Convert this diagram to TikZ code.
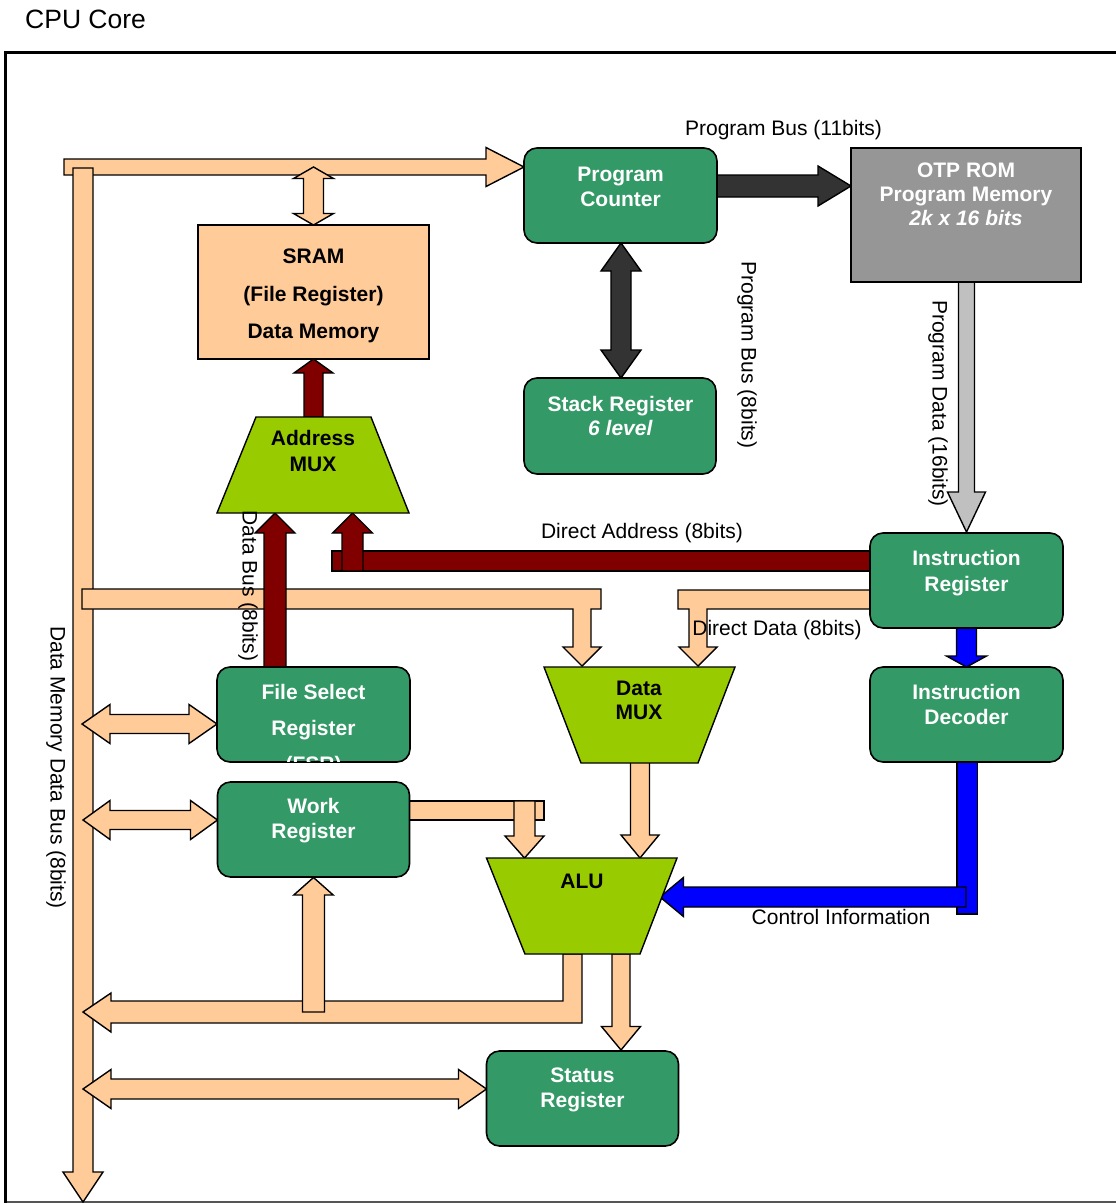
\documentclass[tikz,border=0pt]{standalone}
\usepackage{fontspec}
\setmainfont{Liberation Sans}
\definecolor{peach}{HTML}{FFCC99}
\definecolor{sgreen}{HTML}{339966}
\definecolor{lime}{HTML}{99CC00}
\definecolor{dred}{HTML}{800000}
\definecolor{dgray}{HTML}{333333}
\definecolor{romgray}{HTML}{969696}
\definecolor{lgray}{HTML}{C0C0C0}
\definecolor{pblue}{HTML}{0000FF}
\definecolor{framegray}{HTML}{555555}
\tikzset{
  blk/.style={draw=black, line width=1.4pt, line join=miter},
  gbox/.style={draw=black, line width=1.6pt, fill=sgreen, rounded corners=13pt, inner sep=0pt},
  plainbox/.style={draw=black, line width=1.6pt, inner sep=0pt},
  wlbl/.style={text=white, align=center, inner sep=0pt},
  klbl/.style={text=black, align=center, inner sep=0pt},
  buslbl/.style={text=black, inner sep=0pt, font=\fontsize{21}{25}\selectfont},
}
% horizontal block arrow: fill, x start, x tip, y centre, half shaft, half head, head length (signed)
\newcommand{\ArH}[7]{\filldraw[blk,fill=#1] ({#2},{#4-#5}) -- ({#3-(#7)},{#4-#5}) -- ({#3-(#7)},{#4-#6}) -- ({#3},{#4}) -- ({#3-(#7)},{#4+#6}) -- ({#3-(#7)},{#4+#5}) -- ({#2},{#4+#5}) -- cycle;}
% vertical block arrow: fill, x centre, y start, y tip, half shaft, half head, head length (signed)
\newcommand{\ArV}[7]{\filldraw[blk,fill=#1] ({#2-#5},{#3}) -- ({#2-#5},{#4-(#7)}) -- ({#2-#6},{#4-(#7)}) -- ({#2},{#4}) -- ({#2+#6},{#4-(#7)}) -- ({#2+#5},{#4-(#7)}) -- ({#2+#5},{#3}) -- cycle;}
% horizontal double arrow: fill, left tip, right tip, y centre, half shaft, half head, head length
\newcommand{\DArH}[7]{\filldraw[blk,fill=#1] ({#2},{#4}) -- ({#2+#7},{#4-#6}) -- ({#2+#7},{#4-#5}) -- ({#3-#7},{#4-#5}) -- ({#3-#7},{#4-#6}) -- ({#3},{#4}) -- ({#3-#7},{#4+#6}) -- ({#3-#7},{#4+#5}) -- ({#2+#7},{#4+#5}) -- ({#2+#7},{#4+#6}) -- cycle;}
% vertical double arrow: fill, x centre, top tip, bottom tip, half shaft, half head, head length
\newcommand{\DArV}[7]{\filldraw[blk,fill=#1] ({#2},{#3}) -- ({#2+#6},{#3+#7}) -- ({#2+#5},{#3+#7}) -- ({#2+#5},{#4-#7}) -- ({#2+#6},{#4-#7}) -- ({#2},{#4}) -- ({#2-#6},{#4-#7}) -- ({#2-#5},{#4-#7}) -- ({#2-#5},{#3+#7}) -- ({#2-#6},{#3+#7}) -- cycle;}
\begin{document}
\begin{tikzpicture}[x=1pt,y=-1pt]
\useasboundingbox (0,0) rectangle (1116,1203);
\fill[white] (0,0) rectangle (1116,1203);
% frame
\draw[framegray, line width=1.2pt] (5,1202) -- (1130,1202);
\draw[black, line width=3pt] (1130,52) -- (5,52) -- (5,1203);
\node[anchor=west, inner sep=0pt, font=\fontsize{26.5}{30}\selectfont] (title) at (25,19) {CPU Core};

% data memory bus
\ArH{peach}{64}{524}{167}{8}{19.5}{38}
\ArV{peach}{83}{168}{1202}{10}{20}{30}
% feed to data mux
\filldraw[blk,fill=peach] (82,589) -- (601,589) -- (601,609) -- (591,609) -- (591,647) -- (601,647) -- (582,666) -- (563,647) -- (573,647) -- (573,609) -- (82,609) -- cycle;
% direct data
\filldraw[blk,fill=peach] (871,590) -- (678,590) -- (678,609) -- (689,609) -- (689,647) -- (679,647) -- (698,666) -- (717,647) -- (707,647) -- (707,609) -- (871,609) -- cycle;
% direct address (red)
\filldraw[blk,fill=dred] (332,551) rectangle (871,571);
\ArV{dred}{352.5}{571}{513}{10.5}{20}{-20}
% data bus from FSR (red)
\ArV{dred}{275}{667}{513}{11}{20}{-20}
% address mux to SRAM
\ArV{dred}{313.5}{417}{359}{9.5}{19.5}{-14}
% bus <-> SRAM
\DArV{peach}{313.5}{167}{225}{10}{20}{11.5}
% program counter <-> stack
\DArV{dgray}{621}{243}{378}{10}{20}{28}
% PC -> ROM
\ArH{dgray}{717}{851}{186}{11}{20}{33}
% ROM -> IR
\ArV{lgray}{966.5}{282}{532}{8}{19}{40}
% IR -> ID
\ArV{pblue}{966.5}{628}{667}{10}{20}{11}
% ID -> ALU control
\filldraw[blk,fill=pblue] (957,762) rectangle (977.5,914);
\ArH{pblue}{966}{660}{897}{10}{19.5}{-23.5}
% bus <-> registers
\DArH{peach}{82}{217}{724}{9.5}{19.5}{28}
\DArH{peach}{83}{217.5}{820}{9.5}{19.5}{27}
\DArH{peach}{83}{486.5}{1089}{10}{19.5}{28}
% work -> ALU
\filldraw[blk,fill=peach] (409,801) rectangle (544,820);
\ArV{peach}{524.5}{801}{858}{10.5}{19.5}{22}
% data mux -> ALU
\ArV{peach}{640}{762}{858}{9.5}{19}{23}
% ALU -> status
\ArV{peach}{621}{954}{1050}{9}{19.5}{23.5}
% ALU -> bus
\filldraw[blk,fill=peach] (563,954) -- (582,954) -- (582,1023) -- (111,1023) -- (111,1032) -- (83,1012) -- (111,993) -- (111,1001) -- (563,1001) -- cycle;
% bus -> work register
\ArV{peach}{313.5}{1012}{877.5}{11}{19.7}{-17.5}

% boxes
\node[gbox, minimum width=193pt, minimum height=95pt] (pc) at (620.5,195.5) {};
\node[plainbox, fill=romgray, minimum width=230pt, minimum height=134pt] (rom) at (966,215) {};
\node[gbox, minimum width=192pt, minimum height=96pt] (stack) at (620,426) {};
\node[plainbox, fill=peach, minimum width=231pt, minimum height=134pt] (sram) at (313.5,292) {};
\node[gbox, minimum width=193pt, minimum height=95pt] (ir) at (966.5,580.5) {};
\node[gbox, minimum width=193pt, minimum height=95pt] (id) at (966.5,714.5) {};
\node[gbox, minimum width=193pt, minimum height=95pt] (fsr) at (313.5,714.5) {};
\node[gbox, minimum width=192pt, minimum height=95pt] (work) at (313.5,829.5) {};
\node[gbox, minimum width=192pt, minimum height=95pt] (status) at (582.5,1098.5) {};
\filldraw[blk,fill=lime] (256,417) -- (371,417) -- (409,513) -- (217,513) -- cycle;
\filldraw[blk,fill=lime] (544,667) -- (735,667) -- (698,763) -- (581,763) -- cycle;
\filldraw[blk,fill=lime] (486.5,858) -- (677,858) -- (640,954) -- (525,954) -- cycle;

% box texts
\node[wlbl, font=\bfseries\fontsize{21}{25}\selectfont] (pcT) at (620.5,186.5) {Program\\Counter};
\node[wlbl, font=\bfseries\fontsize{21}{24}\selectfont] (romT) at (966,194) {OTP ROM\\Program Memory\\\textit{2k x 16 bits}};
\node[wlbl, font=\bfseries\fontsize{21}{24}\selectfont] (stackT) at (620.5,416) {Stack Register\\\textit{6 level}};
\node[klbl, font=\bfseries\fontsize{21}{37.5}\selectfont] (sramT) at (313.5,296) {SRAM\\(File Register)\\Data Memory};
\node[wlbl, font=\bfseries\fontsize{21}{26}\selectfont] (irT) at (966.5,573) {Instruction\\Register};
\node[wlbl, font=\bfseries\fontsize{21}{25}\selectfont] (idT) at (966.5,704.5) {Instruction\\Decoder};
\begin{scope}
\clip[rounded corners=13pt] (217,667) rectangle (410,761.5);
\node[wlbl, font=\bfseries\fontsize{21}{36}\selectfont] (fsrT) at (313.5,730) {File Select\\Register\\(FSR)};
\end{scope}
\node[wlbl, font=\bfseries\fontsize{21}{25}\selectfont] (workT) at (313.5,821) {Work\\Register};
\node[wlbl, font=\bfseries\fontsize{21}{25}\selectfont] (statusT) at (582.5,1090) {Status\\Register};
\node[klbl, font=\bfseries\fontsize{21}{26}\selectfont] (amux) at (313,451) {Address\\MUX};
\node[klbl, font=\bfseries\fontsize{21}{24}\selectfont] (dmux) at (639,700) {Data\\MUX};
\node[klbl, font=\bfseries\fontsize{21}{24}\selectfont] (alu) at (582,881) {ALU};

% bus labels
\node[buslbl] (l1) at (783.5,130) {Program Bus (11bits)};
\node[buslbl, rotate=-90] (l2) at (747,355) {Program Bus (8bits)};
\node[buslbl, rotate=-90] (l3) at (938,403.5) {Program Data (16bits)};
\node[buslbl] (l4) at (642,533) {Direct Address (8bits)};
\node[buslbl] (l5) at (777,630) {Direct Data (8bits)};
\node[buslbl, rotate=-90] (l6) at (248,586) {Data Bus (8bits)};
\node[buslbl, rotate=-90] (l7) at (56,767.5) {Data Memory Data Bus (8bits)};
\node[buslbl] (l8) at (841,917) {Control Information};
\end{tikzpicture}
\end{document}
